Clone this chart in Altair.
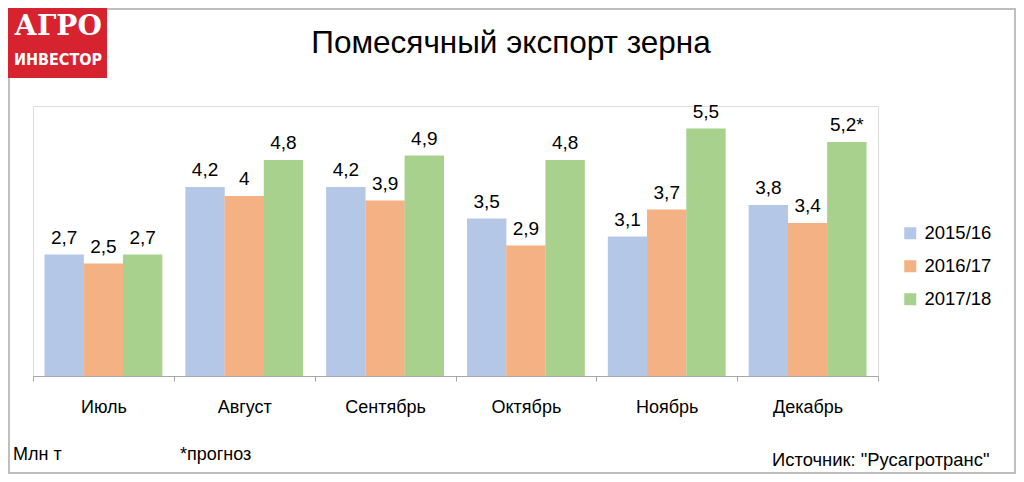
import altair as alt
import pandas as pd

months = ["Июль", "Август", "Сентябрь", "Октябрь", "Ноябрь", "Декабрь"]
series = ["2015/16", "2016/17", "2017/18"]
v2015 = [2.7, 4.2, 4.2, 3.5, 3.1, 3.8]
v2016 = [2.5, 4.0, 3.9, 2.9, 3.7, 3.4]
v2017 = [2.7, 4.8, 4.9, 4.8, 5.5, 5.2]
l2015 = ["2,7", "4,2", "4,2", "3,5", "3,1", "3,8"]
l2016 = ["2,5", "4", "3,9", "2,9", "3,7", "3,4"]
l2017 = ["2,7", "4,8", "4,9", "4,8", "5,5", "5,2*"]
colors = ["#B4C7E7", "#F4B183", "#A9D18E"]

rows = []
for vals, labs, s in [(v2015, l2015, series[0]), (v2016, l2016, series[1]), (v2017, l2017, series[2])]:
    for m, v, l in zip(months, vals, labs):
        rows.append({"month": m, "series": s, "value": v, "label": l})
df = pd.DataFrame(rows)

FONT = "Liberation Sans"
W, H = 845, 270

xenc = alt.X("month:N", sort=months, title=None,
             scale=alt.Scale(paddingInner=0, paddingOuter=0),
             axis=alt.Axis(labelAngle=0, labelFontSize=18, labelFont=FONT, labelColor="#000000",
                           domainColor="#A6A6A6", tickColor="#A6A6A6", tickSize=5,
                           tickBand="extent", labelPadding=17, grid=False))
xoff = alt.XOffset("series:N", sort=series, scale=alt.Scale(paddingInner=0, paddingOuter=0.295))
yenc = alt.Y("value:Q", scale=alt.Scale(domain=[0, 6]), axis=None)

base = alt.Chart(df)
bars = base.mark_bar(size=39.4).encode(
    x=xenc, xOffset=xoff, y=yenc,
    color=alt.Color("series:N", sort=series, scale=alt.Scale(domain=series, range=colors),
                    legend=alt.Legend(title=None, orient="none", legendX=868, legendY=118,
                                      symbolType="square", symbolSize=144, symbolStrokeWidth=0,
                                      labelFontSize=18.5, labelFont=FONT, labelColor="#000000",
                                      rowPadding=14, labelOffset=5)),
)
labels = base.mark_text(baseline="bottom", dy=-7, fontSize=19, font=FONT, color="#000000").encode(
    x=xenc, xOffset=xoff, y=yenc, text="label:N"
)

def txt(t, x, y, size=18, align="left", font=FONT, weight="normal", color="#000000"):
    return alt.Chart(pd.DataFrame({"t": [t]})).mark_text(
        align=align, baseline="middle", fontSize=size, font=font, fontWeight=weight, color=color
    ).encode(x=alt.value(x), y=alt.value(y), text="t:N")

frame = alt.Chart(pd.DataFrame({"a": [0]})).mark_rect(fill=None, stroke="#BFBFBF", strokeWidth=2).encode(
    x=alt.value(-24), x2=alt.value(982), y=alt.value(-97), y2=alt.value(367)
)
logo = alt.Chart(pd.DataFrame({"a": [0]})).mark_rect(fill="#D7232F").encode(
    x=alt.value(-25), x2=alt.value(74), y=alt.value(-98), y2=alt.value(-28)
)

chart = alt.layer(
    frame, logo, bars, labels,
    txt("АГРО", 25, -79, size=28, align="center", font="DejaVu Serif", weight="bold", color="#FFFFFF"),
    txt("ИНВЕСТОР", 25, -46, size=16, align="center",
        font="Liberation Sans Narrow, DejaVu Sans Condensed, sans-serif", weight="bold", color="#FFFFFF"),
    txt("Помесячный экспорт зерна", 478, -62, size=31.5, align="center"),
    txt("Млн т", -20, 349, size=18),
    txt("*прогноз", 147, 349, size=18),
    txt("Источник: \"Русагротранс\"", 739, 354, size=18.4),
).properties(
    width=W, height=H,
    padding={"left": 25, "top": 98, "right": 138, "bottom": 98},
    autosize=alt.AutoSizeParams(type="none"),
).configure_view(stroke=None).configure(background="#FFFFFF")

chart.save("out.html", embed_options={"renderer": "svg", "actions": False})
